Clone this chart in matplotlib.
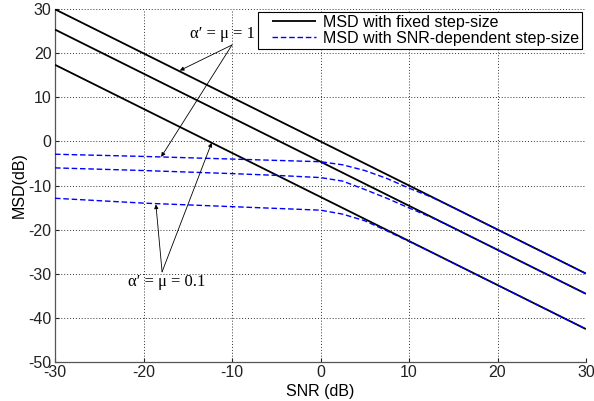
import matplotlib
matplotlib.use("Agg")
import matplotlib.pyplot as plt
from matplotlib.legend_handler import HandlerLine2D

# ---- data ----
snr_fixed = [-30, -20, -10, 0, 10, 20, 30]
msd_fixed_1 = [30.0, 20.0, 10.0, 0.0, -10.0, -20.0, -30.0]
msd_fixed_2 = [25.4, 15.4, 5.4, -4.6, -14.6, -24.6, -34.6]
msd_fixed_3 = [17.4, 7.4, -2.6, -12.6, -22.6, -32.6, -42.6]

snr_var = [-30, -20, -10, -5, 0, 2.5, 5, 7.5, 10, 12.5, 15, 20, 30]
msd_var_1 = [-2.9, -3.4, -4.0, -4.3, -4.6, -5.3, -6.6, -8.4, -10.6, -12.6, -15.0, -20.0, -30.0]
msd_var_2 = [-6.0, -6.6, -7.3, -7.7, -8.2, -9.0, -10.9, -12.9, -15.1, -17.2, -19.6, -24.6, -34.6]
msd_var_3 = [-12.9, -14.0, -14.8, -15.2, -15.6, -16.5, -18.0, -20.3, -22.7, -25.1, -27.6, -32.6, -42.6]

x_ticks = [-30, -20, -10, 0, 10, 20, 30]
y_ticks = [-50, -40, -30, -20, -10, 0, 10, 20, 30]

legend_labels = ["MSD with fixed step-size", "MSD with SNR-dependent step-size"]
label_big = "α′ = μ = 1"
label_small = "α′ = μ = 0.1"

plt.rcParams['font.family'] = ['Liberation Sans', 'DejaVu Sans']
plt.rcParams['axes.unicode_minus'] = False


class OffsetLine(HandlerLine2D):
    """Line handle drawn with some empty space on its left."""
    def __init__(self, offset_pt, **kw):
        super().__init__(**kw)
        self.offset_pt = offset_pt

    def create_artists(self, legend, orig_handle, xdescent, ydescent,
                       width, height, fontsize, trans):
        return super().create_artists(legend, orig_handle,
                                      xdescent - self.offset_pt, ydescent,
                                      width - self.offset_pt, height,
                                      fontsize, trans)


fig = plt.figure(figsize=(5.94, 4.01), dpi=100)
ax = fig.add_axes([55/594, 1-361.7/401, 531/594, 352.4/401])

for i, y in enumerate([msd_fixed_1, msd_fixed_2, msd_fixed_3]):
    ax.plot(snr_fixed, y, color='black', lw=1.3, solid_capstyle='butt',
            label=legend_labels[0] if i == 0 else None, zorder=3)
for i, y in enumerate([msd_var_1, msd_var_2, msd_var_3]):
    ax.plot(snr_var, y, color='#0000ff', lw=1.0, linestyle=(0, (4, 2)),
            label=legend_labels[1] if i == 0 else None, zorder=4)

ax.set_xlim(-30, 30)
ax.set_ylim(-50, 30)
ax.set_xticks(x_ticks)
ax.set_yticks(y_ticks)
ax.tick_params(direction='in', length=3, labelsize=11.5, pad=2.5, colors='#222222')
ax.grid(True, color='#333333', linestyle=(0, (1, 2)), linewidth=0.7)
for s in ['top', 'right']:
    ax.spines[s].set_visible(False)
for s in ['left', 'bottom']:
    ax.spines[s].set_color('#555555')
    ax.spines[s].set_linewidth(0.9)

ax.set_xlabel("SNR (dB)", fontsize=11.5, labelpad=3)
ax.set_ylabel("MSD(dB)", fontsize=11.5, labelpad=1)

handles, labels = ax.get_legend_handles_labels()
leg = ax.legend(handles, labels, loc='upper right', bbox_to_anchor=(0.9925, 0.993),
                borderaxespad=0, fontsize=11.5, frameon=True, fancybox=False,
                framealpha=1, edgecolor='black', handlelength=3.45,
                handletextpad=0.41, labelspacing=0.05, borderpad=0.2,
                handler_map={h: OffsetLine(8.0) for h in handles})
leg.get_frame().set_linewidth(0.8)
leg.set_zorder(10)

serif = ['Liberation Serif', 'DejaVu Serif']
ax.text(-11.1, 24.4, label_big, fontsize=12, family=serif, ha='center', va='center', zorder=6)
ax.text(-17.4, -31.8, label_small, fontsize=12, family=serif, ha='center', va='center', zorder=6)

arrow = dict(arrowstyle='-|>', lw=0.6, color='black', mutation_scale=6, shrinkA=0, shrinkB=0)
for tgt in [(-15.9, 16.1), (-18.0, -3.5)]:
    ax.annotate("", xy=tgt, xytext=(-10.0, 21.9), arrowprops=arrow, zorder=6)
for tgt in [(-18.6, -14.3), (-12.3, -0.3)]:
    ax.annotate("", xy=tgt, xytext=(-17.9, -29.6), arrowprops=arrow, zorder=6)

fig.savefig("out.png", dpi=100)
